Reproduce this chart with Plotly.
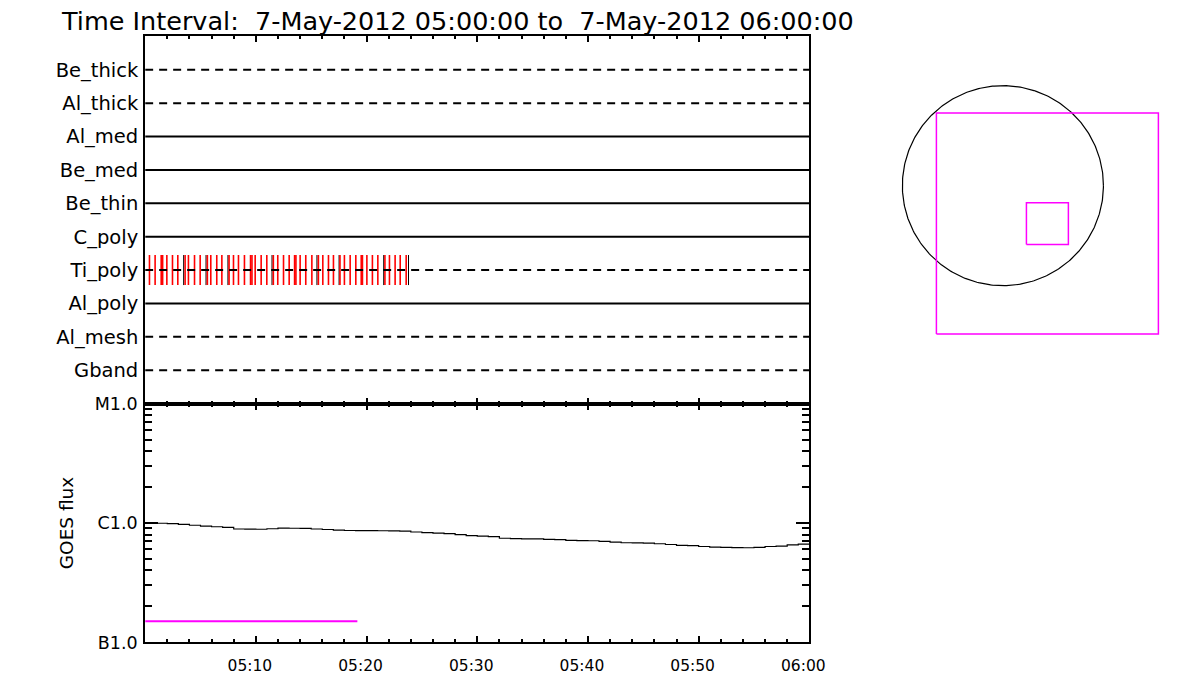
import pandas as pd
import numpy as np
import plotly.graph_objects as go

# ---------------- data ----------------
t_start = "2012-05-07 05:00:00"
t_end = "2012-05-07 06:00:00"
title_text = "Time Interval:  7-May-2012 05:00:00 to  7-May-2012 06:00:00"

filters = ["Be_thick", "Al_thick", "Al_med", "Be_med", "Be_thin",
           "C_poly", "Ti_poly", "Al_poly", "Al_mesh", "Gband"]
filter_dashed = [True, True, False, False, False, False, True, False, True, True]

# Ti_poly exposure times (minutes after 05:00)
ti_red_min = [0.39, 0.90, 1.45, 1.58, 1.96, 2.47, 2.95, 3.61, 3.91, 4.46, 4.97,
              5.62, 5.93, 6.47, 6.93, 7.58, 7.98, 8.43, 8.97, 9.52, 9.65, 9.94,
              10.48, 10.99, 11.58, 11.98, 12.50, 13.01, 13.50, 13.62, 14.00,
              14.51, 15.06, 15.65, 16.05, 16.56, 17.01, 17.60, 18.00, 18.52,
              19.03, 19.52, 19.63, 20.03, 20.53, 21.02, 21.66, 22.07, 22.58,
              23.04, 23.58]
ti_black_min = [3.48, 5.50, 7.48, 11.46, 15.52, 17.52, 21.55, 23.79]

# GOES flux (W/m^2), one value per minute from 05:00 to 06:00
goes_min = list(range(61))
goes_flux = [1.000, 0.995, 0.988, 0.975, 0.957, 0.940, 0.930, 0.917, 0.890, 0.888,
             0.886, 0.895, 0.905, 0.903, 0.900, 0.890, 0.882, 0.870, 0.865, 0.862,
             0.862, 0.861, 0.860, 0.855, 0.840, 0.830, 0.822, 0.815, 0.800, 0.785,
             0.775, 0.770, 0.745, 0.740, 0.737, 0.735, 0.730, 0.725, 0.715, 0.712,
             0.710, 0.700, 0.690, 0.683, 0.680, 0.678, 0.670, 0.660, 0.650, 0.645,
             0.635, 0.628, 0.625, 0.622, 0.620, 0.625, 0.635, 0.640, 0.655, 0.665,
             0.670]
goes_flux = [v * 1e-6 for v in goes_flux]

# magenta bar in GOES panel
bar_min = [0.0, 19.17]
bar_level = 1.5e-7

goes_tickvals = [1e-7, 1e-6, 1e-5]
goes_ticktext = ["B1.0", "C1.0", "M1.0"]
time_ticks_min = [0, 10, 20, 30, 40, 50, 60]
time_ticktext = ["", "05:10", "05:20", "05:30", "05:40", "05:50", "06:00"]

# pointing map (arcsec)
r_sun = 951.0
fov_center = (421.0, -360.0)
fov_big = 2100.0
fov_small = 397.0

# ---------------- helpers ----------------
t0 = pd.Timestamp(t_start)
def tm(m):
    return t0 + pd.Timedelta(minutes=m)

OFF = 8                     # default body margin of the page
W, H = 1200 - 2 * OFF, 700 - 2 * OFF
# observed page -> picture mapping, compensated here
SX, SY, OY = 0.9862, 0.9756, 8.7
def px_x(p):                # target picture pixel -> paper fraction
    return min(1.0, max(0.0, (p / SX - OFF) / W))
def px_y(p):
    return min(1.0, max(0.0, (H - ((p - OY) / SY - OFF)) / H))

FONT = "DejaVu Sans"
fig = go.Figure()

# Ti_poly exposure marks
ti_row = len(filters) - filters.index("Ti_poly")
def vlines(mins, half):
    xs, ys = [], []
    for m in mins:
        xs += [tm(m), tm(m), None]
        ys += [ti_row - half, ti_row + half, None]
    return xs, ys

xb, yb = vlines(ti_black_min, 0.45)
fig.add_trace(go.Scatter(x=xb, y=yb, mode="lines", line=dict(color="black", width=1),
                         xaxis="x", yaxis="y", hoverinfo="skip"))
xr, yr = vlines(ti_red_min, 0.45)
fig.add_trace(go.Scatter(x=xr, y=yr, mode="lines", line=dict(color="#ff0000", width=1.6),
                         xaxis="x", yaxis="y", hoverinfo="skip"))

# filter lines
for i, (name, dashed) in enumerate(zip(filters, filter_dashed)):
    row = len(filters) - i
    fig.add_trace(go.Scatter(
        x=[tm(0), tm(60)], y=[row, row], mode="lines",
        line=dict(color="black", width=2, dash="8px,6px" if dashed else "solid"),
        xaxis="x", yaxis="y", hoverinfo="skip"))

# GOES curve
fig.add_trace(go.Scatter(x=[tm(m) for m in goes_min], y=goes_flux, mode="lines",
                         line=dict(color="black", width=1.2, shape="hv"),
                         xaxis="x2", yaxis="y2"))
fig.add_trace(go.Scatter(x=[tm(m) for m in bar_min], y=[bar_level, bar_level], mode="lines",
                         line=dict(color="#ff00ff", width=2),
                         xaxis="x2", yaxis="y2"))

# pointing map
th = np.linspace(0, 2 * np.pi, 361)
fig.add_trace(go.Scatter(x=r_sun * np.cos(th), y=r_sun * np.sin(th), mode="lines",
                         line=dict(color="black", width=1.2), xaxis="x3", yaxis="y3"))
for fov in (fov_big, fov_small):
    cx, cy = fov_center
    h = fov / 2
    fig.add_trace(go.Scatter(x=[cx - h, cx + h, cx + h, cx - h, cx - h],
                             y=[cy - h, cy - h, cy + h, cy + h, cy - h], mode="lines",
                             line=dict(color="#ff00ff", width=1.5), xaxis="x3", yaxis="y3"))

# ---------------- layout ----------------
left, right = 145, 809
top1, mid, bot2 = 35, 404, 644
xrange_ = [tm(0), tm(60)]

common_x = dict(type="date", range=xrange_, domain=[px_x(left), px_x(right)],
                showline=True, linewidth=2, linecolor="black", mirror="ticks",
                ticks="inside", ticklen=6, tickwidth=2, tickcolor="black",
                showgrid=False, zeroline=False,
                minor=dict(ticks="inside", ticklen=3, tickwidth=2, tickcolor="black",
                           dtick=120000, tick0=tm(0), showgrid=False))

# right panel (target picture pixels)
scale = 100.5 / r_sun  # picture px per arcsec
cxp, cyp = 1002.5, 185.0
x3_px = [880, 1165]
y3_px = [40, 360]

fig.update_layout(
    width=W, height=H, margin=dict(l=0, r=0, t=0, b=0),
    paper_bgcolor="white", plot_bgcolor="white", showlegend=False,
    font=dict(family=FONT, color="black", size=17),
    xaxis=dict(**common_x, anchor="y", showticklabels=False,
               tickvals=[tm(m) for m in time_ticks_min]),
    yaxis=dict(range=[0, len(filters) + 1], domain=[px_y(mid), px_y(top1)],
               showline=True, linewidth=2, linecolor="black", mirror=True,
               ticks="", tickvals=list(range(len(filters), 0, -1)), ticktext=filters,
               showgrid=False, zeroline=False, ticklabelstandoff=1,
               tickfont=dict(size=19.5)),
    xaxis2=dict(**common_x, anchor="y2", tickvals=[tm(m) for m in time_ticks_min],
                ticktext=time_ticktext, tickfont=dict(size=15.5), ticklabelstandoff=8,
                ticklabelshift=-6),
    yaxis2=dict(type="log", range=[-7, -5], domain=[px_y(bot2), px_y(mid)],
                showline=True, linewidth=2, linecolor="black", mirror="ticks",
                ticks="inside", ticklen=13, tickwidth=1.5, tickcolor="black",
                tickvals=goes_tickvals, ticktext=goes_ticktext, tickfont=dict(size=17.5),
                ticklabelstandoff=2,
                minor=dict(ticks="inside", ticklen=7, tickwidth=1.5, tickcolor="black",
                           tickvals=[k * 10.0 ** e for e in (-7, -6) for k in range(2, 10)],
                           showgrid=False),
                showgrid=False, zeroline=False,
                title=dict(text="GOES flux", font=dict(size=18.5), standoff=16)),
    xaxis3=dict(visible=False, domain=[px_x(x3_px[0]), px_x(x3_px[1])],
                range=[(x3_px[0] - cxp) / scale, (x3_px[1] - cxp) / scale]),
    yaxis3=dict(visible=False, domain=[px_y(y3_px[1]), px_y(y3_px[0])],
                range=[-(y3_px[1] - cyp) / scale, (cyp - y3_px[0]) / scale],
                anchor="x3"),
    annotations=[dict(text=title_text, x=px_x(60), y=px_y(20), xref="paper", yref="paper",
                      xanchor="left", yanchor="middle", showarrow=False, borderpad=0,
                      font=dict(size=25.5, family=FONT))],
)
fig.update_layout(xaxis3_anchor="y3")

fig.write_html("out.html", config={"displayModeBar": False})
